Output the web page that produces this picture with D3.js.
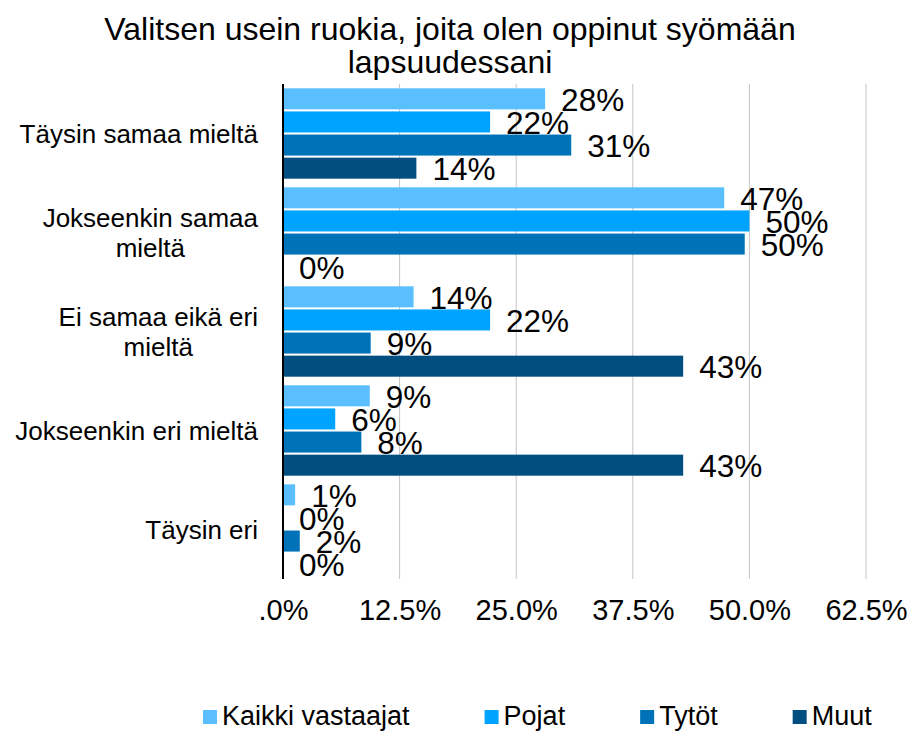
<!DOCTYPE html>
<html>
<head>
<meta charset="utf-8">
<script src="https://cdn.jsdelivr.net/npm/d3@7"></script>
<style>
  body { margin: 0; background: #fff; }
  svg { display: block; font-family: "Liberation Sans", Arial, sans-serif; }
</style>
</head>
<body>
<svg id="chart" width="908" height="731"></svg>
<script>
// Survey answers by respondent group (percent)
const titleLines = ["Valitsen usein ruokia, joita olen oppinut syömään", "lapsuudessani"];
const categories = [
  ["Täysin samaa mieltä"],
  ["Jokseenkin samaa", "mieltä"],
  ["Ei samaa eikä eri", "mieltä"],
  ["Jokseenkin eri mieltä"],
  ["Täysin eri"]
];
const seriesNames = ["Kaikki vastaajat", "Pojat", "Tytöt", "Muut"];
const kaikki = [28.1, 47.3, 14.0, 9.3, 1.3];
const pojat  = [22.2, 50.0, 22.2, 5.6, 0];
const tytot  = [30.9, 49.5, 9.4, 8.4, 1.8];
const muut   = [14.3, 0, 42.9, 42.9, 0];
const tickValues = [0, 12.5, 25, 37.5, 50, 62.5];
const tickLabels = [".0%", "12.5%", "25.0%", "37.5%", "50.0%", "62.5%"];
const colors = ["#5bbfff", "#00a3ff", "#0073b8", "#004f80"];

const seriesValues = [kaikki, pojat, tytot, muut];
const catKeys = categories.map(c => c.join(" "));

const svg = d3.select("#chart");
const plot = { left: 283, right: 866, top: 84, bottom: 579 };

const x = d3.scaleLinear().domain([0, 62.5]).range([plot.left, plot.right]);
const y = d3.scaleBand().domain(catKeys).range([plot.top, plot.bottom])
  .paddingInner(0.087).paddingOuter(0.0435);
const ySub = d3.scaleBand().domain(seriesNames).range([0, y.bandwidth()])
  .paddingInner(0.09).paddingOuter(0);
const color = d3.scaleOrdinal().domain(seriesNames).range(colors);

// Title
svg.append("g").selectAll("text").data(titleLines).join("text")
  .attr("x", 450).attr("y", (d, i) => 40 + i * 33)
  .attr("text-anchor", "middle").attr("font-size", 32).attr("fill", "#000")
  .text(d => d);

// Vertical gridlines
svg.append("g").selectAll("line").data(tickValues.filter(v => v > 0)).join("line")
  .attr("x1", d => x(d)).attr("x2", d => x(d))
  .attr("y1", plot.top).attr("y2", plot.bottom)
  .attr("stroke", "#c4c4c4").attr("stroke-width", 1);

// Bottom axis (labels only)
const xAxis = d3.axisBottom(x).tickValues(tickValues)
  .tickFormat((d, i) => tickLabels[i]).tickSize(0).tickPadding(0);
const gx = svg.append("g").attr("transform", `translate(0,${plot.bottom})`).call(xAxis);
gx.select(".domain").remove();
gx.selectAll("text").attr("font-size", 29).attr("fill", "#000")
  .attr("font-family", "\"Liberation Sans\", Arial, sans-serif")
  .attr("dy", null).attr("y", 41);

// Bars
const rows = [];
catKeys.forEach((c, ci) => seriesNames.forEach((s, si) => {
  rows.push({ cat: c, series: s, value: seriesValues[si][ci] });
}));

const groups = svg.append("g");
groups.selectAll("rect").data(rows).join("rect")
  .attr("x", x(0))
  .attr("y", d => y(d.cat) + ySub(d.series))
  .attr("width", d => x(d.value) - x(0))
  .attr("height", ySub.bandwidth())
  .attr("fill", d => color(d.series));

// Value labels
groups.selectAll("text.val").data(rows).join("text").attr("class", "val")
  .attr("x", d => x(d.value) + 16)
  .attr("y", d => y(d.cat) + ySub(d.series) + ySub.bandwidth() / 2 + 12)
  .attr("font-size", 31.5).attr("fill", "#000")
  .text(d => Math.round(d.value) + "%");

// Category axis line
svg.append("line")
  .attr("x1", x(0)).attr("x2", x(0))
  .attr("y1", plot.top).attr("y2", plot.bottom)
  .attr("stroke", "#000").attr("stroke-width", 2);

// Category labels: block right-aligned to the axis, lines centred within it
const catG = svg.append("g");
categories.forEach((lines, ci) => {
  const g = catG.append("g");
  const lh = 30;
  const cy = y(catKeys[ci]) + y.bandwidth() / 2;
  const texts = g.selectAll("text").data(lines).join("text")
    .attr("font-size", 26).attr("fill", "#000")
    .attr("y", (d, i) => cy + 9 + (i - (lines.length - 1) / 2) * lh)
    .text(d => d);
  const widths = texts.nodes().map(n => n.getComputedTextLength());
  const w = d3.max(widths);
  const right = 258;
  texts.attr("text-anchor", "middle").attr("x", right - w / 2);
});

// Legend
const legend = svg.append("g");
let lx = 203;
seriesNames.forEach(s => {
  legend.append("rect").attr("x", lx).attr("y", 710).attr("width", 14).attr("height", 14)
    .attr("fill", color(s));
  const t = legend.append("text").attr("x", lx + 19).attr("y", 725)
    .attr("font-size", 27).attr("fill", "#000").text(s);
  lx += 19 + t.node().getComputedTextLength() + 75;
});
</script>
</body>
</html>
